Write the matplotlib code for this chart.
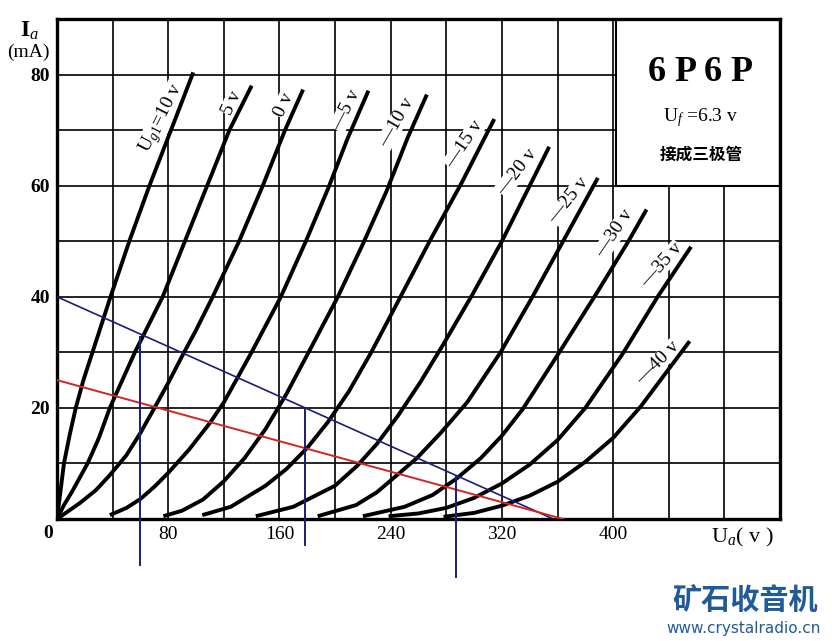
import matplotlib
matplotlib.use("Agg")
import matplotlib.pyplot as plt
from matplotlib.patches import Rectangle

plt.rcParams['font.family'] = ['Liberation Serif', 'DejaVu Serif']
plt.rcParams['mathtext.fontset'] = 'custom'
plt.rcParams['mathtext.rm'] = 'Liberation Serif'
plt.rcParams['mathtext.it'] = 'Liberation Serif:italic'

# plate curves of the 6P6P (triode connected), Ua in V, Ia in mA
ua_p10 = [0, 2.5, 5, 9, 13.5, 19, 25.5, 32, 38.5, 52, 66.5, 82, 98]
ia_p10 = [0, 5, 10, 15, 20, 25, 30, 35, 40, 50, 60, 70, 80.4]
ua_p5 = [0, 5, 11, 22, 30, 38, 47, 56, 76, 92, 108, 124, 140]
ia_p5 = [0, 2.5, 5, 10, 14.5, 20, 25, 30, 40, 50, 60, 70, 78]
ua_0 = [0, 16.6, 28, 38, 50, 60, 69, 80, 91, 100, 112, 131, 148, 164, 177]
ia_0 = [0, 2.9, 5.2, 7.9, 11.5, 15.5, 19.5, 24.5, 29.8, 34, 40, 50, 60, 70, 77.3]
ua_m5 = [38, 50, 60, 70, 80, 95, 110, 120, 130, 141, 161, 179, 195, 209, 224]
ia_m5 = [0.7, 2.0, 3.6, 5.8, 8.3, 12.5, 17.3, 21, 25.5, 30.5, 40, 50, 59.5, 68.5, 77.1]
ua_m10 = [76.5, 90, 105, 120, 135, 150, 165, 182, 202, 220, 237, 252, 266]
ia_m10 = [0.5, 1.5, 3.5, 6.8, 11, 16.2, 22.5, 30.5, 40, 49.5, 59, 68.5, 76.4]
ua_m15 = [104.5, 125, 150, 165, 180, 195, 210, 226, 246, 268, 291, 314.5]
ia_m15 = [0.7, 2.2, 6, 9, 12.8, 17.5, 23, 30, 39.5, 50, 60.5, 72]
ua_m20 = [143, 170, 200, 216, 230, 245, 261, 278, 299, 320, 338, 354]
ia_m20 = [0.5, 2.2, 6.0, 9.6, 13.5, 18.5, 24.5, 31.5, 40.5, 50, 59, 67]
ua_m25 = [187.5, 215, 230, 245, 259, 276, 295, 319, 342, 364, 389]
ia_m25 = [0.5, 2.5, 4.8, 8, 11, 15.5, 21, 30, 40, 50, 61.4]
ua_m30 = [220, 250, 270, 287, 305, 320, 335, 360, 389, 411, 424]
ia_m30 = [0.5, 2.2, 4.3, 7.2, 11, 15, 19.8, 29.5, 41, 50, 55.7]
ua_m35 = [238.5, 260, 280, 300, 320, 340, 360, 380, 407, 432, 456]
ia_m35 = [0.5, 1.0, 2.0, 3.8, 6.4, 9.8, 14.2, 20, 29.8, 40, 49]
ua_m40 = [278, 300, 320, 340, 360, 380, 400, 420, 440, 455]
ia_m40 = [0.4, 1.1, 2.4, 4.2, 6.7, 10.3, 14.6, 20.3, 27, 32]

curves = [(ua_p10, ia_p10), (ua_p5, ia_p5), (ua_0, ia_0), (ua_m5, ia_m5),
          (ua_m10, ia_m10), (ua_m15, ia_m15), (ua_m20, ia_m20), (ua_m25, ia_m25),
          (ua_m30, ia_m30), (ua_m35, ia_m35), (ua_m40, ia_m40)]

# curve labels: text, position (V, mA), rotation
ug_labels = ['U$_{g1}$=10 v', '5 v', '0 v', '\u20145 v', '\u201410 v', '\u201415 v',
             '\u201420 v', '\u201425 v', '\u201430 v', '\u201435 v', '\u201440 v']
label_ua = [75.5, 126, 163, 208, 244, 293, 331, 368, 401, 435, 432]
label_ia = [72.1, 74.9, 74.5, 73.6, 71.3, 67.5, 62.5, 57.4, 51.4, 45.7, 28.1]
label_rot = [63, 65, 65, 63, 60, 56, 52, 51, 56, 48, 45]

# load lines (Ia at Ua=0, Ua at Ia=0)
blue_line = (40, 357)
red_line = (25, 364)
# marker verticals: Ua, top Ia, bottom Ia
vert_ua = [60, 178.7, 287]
vert_top = [32.8, 19.6, 7.6]
vert_bot = [-8.3, -4.7, -10.5]

x_ticks = [80, 160, 240, 320, 400]
y_ticks = [20, 40, 60, 80]

fig = plt.figure(figsize=(8.32, 6.41), dpi=100)
ax = fig.add_axes([57 / 832, 1 - 519 / 641, 723 / 832, 500 / 641])
ax.set_xlim(0, 520)
ax.set_ylim(0, 90)

for v in range(40, 520, 40):
    ax.axvline(v, color='black', lw=1.2, zorder=1)
for i in range(10, 90, 10):
    ax.axhline(i, color='black', lw=1.2, zorder=1)

ax.add_patch(Rectangle((402, 60), 118, 30, facecolor='white', edgecolor='black',
                       lw=1.5, zorder=2))

for ua, ia in curves:
    ax.plot(ua, ia, color='black', lw=2.8, solid_capstyle='butt',
            solid_joinstyle='round', zorder=3)

for txt, x, y, r in zip(ug_labels, label_ua, label_ia, label_rot):
    ax.text(x, y, txt, rotation=r, ha='center', va='center', fontsize=14, zorder=2.5,
            rotation_mode='anchor',
            bbox=dict(facecolor='white', edgecolor='none', pad=0.3))

ax.plot([0, blue_line[1]], [blue_line[0], 0], color='#1c1c7a', lw=1.2, zorder=4)
ax.plot([0, red_line[1]], [red_line[0], 0], color='#d42424', lw=1.4, zorder=4)
for v, t, b in zip(vert_ua, vert_top, vert_bot):
    ax.plot([v, v], [t, b], color='#1c1c7a', lw=1.4, zorder=4, clip_on=False)

ax.set_xticks(x_ticks)
ax.set_xticklabels([str(t) for t in x_ticks], fontsize=14)
ax.set_yticks(y_ticks)
ax.set_yticklabels([str(t) for t in y_ticks], fontsize=14, fontweight='bold')
ax.tick_params(length=0, pad=5)
ax.text(-6.5, -2.6, '0', ha='center', va='center', fontsize=14, fontweight='bold')
for s in ax.spines.values():
    s.set_linewidth(2.4)

ax.text(463, 80.4, '6 P 6 P', ha='center', va='center', fontsize=26, fontweight='bold')
ax.text(463, 72.3, 'U$_{f}$ =6.3 v', ha='center', va='center', fontsize=14)
ax.text(463, 65.6, '接成三极管', ha='center', va='center', fontsize=12,
        family=['Noto Sans CJK SC', 'DejaVu Sans'], fontweight='bold')

fig.text(30 / 832, 1 - 31 / 641, 'I$_{a}$', ha='center', va='center', fontsize=17,
         fontweight='bold')
fig.text(28 / 832, 1 - 52 / 641, '(mA)', ha='center', va='center', fontsize=14)
fig.text(742 / 832, 1 - 537 / 641, 'U$_{a}$( v )', ha='center', va='center', fontsize=16)

fig.text(745 / 832, 1 - 600 / 641, '矿石收音机', ha='center', va='center', fontsize=21,
         color='#1f5a99', fontweight='bold', family=['Noto Sans CJK SC', 'DejaVu Sans'])
fig.text(744 / 832, 1 - 628 / 641, 'www.crystalradio.cn', ha='center', va='center',
         fontsize=11, color='#1f5a99', family=['DejaVu Sans'])

fig.savefig('out.png', dpi=100)
